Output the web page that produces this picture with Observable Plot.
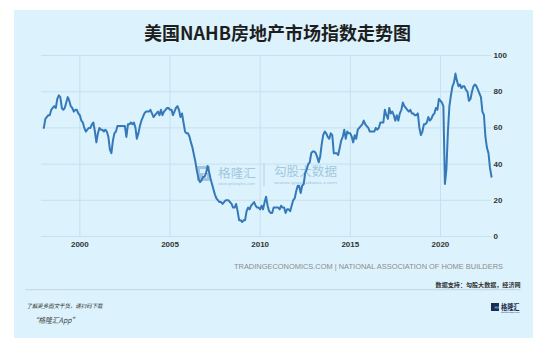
<!DOCTYPE html>
<html><head><meta charset="utf-8">
<script src="https://cdn.jsdelivr.net/npm/d3@7"></script>
<script src="https://cdn.jsdelivr.net/npm/@observablehq/plot@0.6"></script>
<style>
html,body{margin:0;padding:0;background:#fff;}
#wrap{position:relative;width:556px;height:340px;overflow:hidden;background:#fff;}
#card{position:absolute;left:14px;top:10px;width:519px;height:328px;background:#dcf3fd;}
#wm,#chart,#overlay{position:absolute;left:0;top:0;}
</style></head>
<body>
<div id="wrap"><div id="card"></div><svg id="wm" width="556" height="340"></svg><div id="chart"></div><svg id="overlay" width="556" height="340"></svg></div>
<script>
// ---- data ----
const title = "美国NAHB房地产市场指数走势图";
const source = "TRADINGECONOMICS.COM | NATIONAL ASSOCIATION OF HOME BUILDERS";
const dataCredit = "数据支持：勾股大数据，经济网";
const footNote = "了解更多图文干货，请扫码下载";
const appName = "“格隆汇App”";
const startYear = 1998; // first month: Jan 1998, monthly values
const hmi = [
  60,65,66,67,67,70,71,72,71,76,78,77,   // 1998
  71,70,71,74,77,75,72,71,69,70,70,68,   // 1999
  67,64,63,60,58,59,60,60,62,63,58,52,   // 2000
  57,60,59,59,58,59,58,55,48,46,53,57,   // 2001
  58,61,61,61,61,61,61,55,62,62,63,62,   // 2002
  63,60,54,57,61,64,66,68,69,69,69,70,   // 2003
  68,66,67,68,69,67,70,67,69,70,71,71,   // 2004
  70,70,67,69,71,72,70,66,68,63,58,57,   // 2005
  57,55,52,49,45,41,36,32,30,31,33,33,   // 2006
  35,39,36,32,29,26,23,21,20,19,19,18,   // 2007
  19,20,20,20,19,18,16,16,18,14,9,9,     // 2008
  8,9,9,14,16,15,17,18,19,17,16,16,      // 2009
  15,17,15,19,22,17,14,13,13,16,16,16,   // 2010
  16,15,17,16,16,13,15,15,14,17,20,21,   // 2011
  25,28,28,24,28,29,35,37,40,41,46,47,   // 2012
  47,46,44,41,44,51,56,58,57,55,54,57,   // 2013
  56,46,46,46,45,49,53,55,59,54,58,57,   // 2014
  57,55,52,56,54,59,60,61,62,64,62,61,   // 2015
  60,58,58,58,58,60,59,60,63,63,63,70,   // 2016
  67,65,71,68,69,67,64,67,64,68,70,74,   // 2017
  72,71,70,69,70,68,68,67,67,68,60,56,   // 2018
  58,62,62,63,66,64,65,67,68,71,70,76,   // 2019
  75,74,72,29,37,58,72,78,83,85,90,86,   // 2020
  83,84,82,83,83,81,80,75,76,80,83,84,   // 2021
  83,81,79,77,69,67,55,49,46,38,33       // 2022
];
const xTickYears = [2000, 2005, 2010, 2015, 2020];
const yTicks = [0, 20, 40, 60, 80, 100];

// ---- chart ----
const rows = hmi.map((v, i) => ({date: new Date(Date.UTC(startYear, i, 1)), value: v}));
const xTicks = xTickYears.map(y => new Date(Date.UTC(y, 0, 1)));
const gridColor = "#c6e0ed";

const chart = Plot.plot({
  width: 556, height: 260,
  marginLeft: 41, marginRight: 65, marginTop: 55, marginBottom: 24,
  style: {background: "transparent", fontFamily: "'Liberation Sans', Arial, sans-serif", fontSize: "8px", color: "#333", overflow: "visible"},
  x: {type: "utc", domain: [new Date(Date.UTC(1997, 10, 15)), new Date(Date.UTC(2022, 10, 1))]},
  y: {domain: [0, 100]},
  marks: [
    Plot.gridY(yTicks, {stroke: gridColor, strokeOpacity: 1}),
    Plot.gridX(xTicks, {stroke: gridColor, strokeOpacity: 1}),
    Plot.line(rows, {x: "date", y: "value", stroke: "#3579b9", strokeWidth: 2}),
    Plot.axisY(yTicks, {anchor: "right", tickSize: 0, tickPadding: 2, label: null, fontWeight: 600}),
    Plot.axisX(xTicks, {tickSize: 0, tickPadding: 5, tickFormat: "%Y", label: null, fontWeight: 600})
  ]
});
document.getElementById("chart").appendChild(chart);

// ---- watermarks (behind the line) ----
const wm = d3.select("#wm");
const wmColor = "#a3c7e0";
wm.append("rect").attr("x", 197).attr("y", 166).attr("width", 13).attr("height", 15).attr("fill", wmColor);
wm.append("rect").attr("x", 200).attr("y", 169).attr("width", 10).attr("height", 4).attr("fill", "#dcf3fd");
wm.append("rect").attr("x", 203).attr("y", 174).attr("width", 4).attr("height", 4).attr("fill", "#dcf3fd");
wm.append("text").attr("x", 218).attr("y", 178).attr("font-family", "'Noto Sans CJK SC'").attr("font-size", 12)
  .attr("fill", wmColor).attr("textLength", 38).attr("lengthAdjust", "spacingAndGlyphs").text("格隆汇");
wm.append("text").attr("x", 218).attr("y", 185).attr("font-family", "'Liberation Sans'").attr("font-size", 3.2)
  .attr("fill", wmColor).attr("textLength", 37).attr("lengthAdjust", "spacingAndGlyphs").text("www.gelonghui.com");
wm.append("line").attr("x1", 264).attr("x2", 264).attr("y1", 163).attr("y2", 186).attr("stroke", "#b3d0e4").attr("stroke-width", 1);
wm.append("text").attr("x", 274).attr("y", 176).attr("font-family", "'Noto Sans CJK SC'").attr("font-size", 12.5)
  .attr("fill", wmColor).attr("textLength", 63).attr("lengthAdjust", "spacingAndGlyphs").text("勾股大数据");
wm.append("text").attr("x", 274).attr("y", 184).attr("font-family", "'Liberation Sans'").attr("font-size", 4.3)
  .attr("fill", wmColor).attr("textLength", 63).attr("lengthAdjust", "spacingAndGlyphs").text("www.gogudata.com");

// ---- text overlay ----
const ov = d3.select("#overlay");
ov.append("text").attr("x", 277.5).attr("y", 40).attr("text-anchor", "middle")
  .attr("font-family", "'Noto Sans CJK SC'").attr("font-weight", 700).attr("font-size", 18).attr("fill", "#1e1e1e").text(title);
ov.append("text").attr("x", 503).attr("y", 269.4).attr("text-anchor", "end")
  .attr("font-family", "'Liberation Sans', Arial, sans-serif").attr("font-size", 7.5).attr("fill", "#8c8c8c")
  .attr("textLength", 269).attr("lengthAdjust", "spacingAndGlyphs").text(source);
ov.append("text").attr("x", 520.6).attr("y", 286.6).attr("text-anchor", "end")
  .attr("font-family", "'Noto Sans CJK SC'").attr("font-weight", 700).attr("font-size", 6).attr("fill", "#333")
  .attr("textLength", 85).attr("lengthAdjust", "spacingAndGlyphs").text(dataCredit);
ov.append("line").attr("x1", 25.5).attr("x2", 520.6).attr("y1", 289.7).attr("y2", 289.7)
  .attr("stroke", "#b7c6cd").attr("stroke-width", 0.7);
ov.append("text").attr("x", 26.5).attr("y", 308).attr("font-family", "'Noto Sans CJK SC'").attr("font-style", "italic")
  .attr("font-size", 5.5).attr("fill", "#333").attr("textLength", 76).attr("lengthAdjust", "spacingAndGlyphs").text(footNote);
ov.append("text").attr("x", 31.4).attr("y", 322.7).attr("font-family", "'Noto Sans CJK SC'").attr("font-style", "italic")
  .attr("font-size", 7.5).attr("fill", "#444").attr("textLength", 47).attr("lengthAdjust", "spacingAndGlyphs").text(appName);
// logo
ov.append("rect").attr("x", 491).attr("y", 303).attr("width", 8).attr("height", 8).attr("fill", "#1f2d4d");
ov.append("rect").attr("x", 494.5).attr("y", 306.5).attr("width", 4.5).attr("height", 2).attr("fill", "#2f8fd8");
ov.append("text").attr("x", 501).attr("y", 310.3).attr("font-family", "'Noto Sans CJK SC'").attr("font-weight", 700)
  .attr("font-size", 7.5).attr("fill", "#1f2d4d").attr("textLength", 18.5).attr("lengthAdjust", "spacingAndGlyphs").text("格隆汇");
ov.append("text").attr("x", 501).attr("y", 313).attr("font-family", "'Liberation Sans'").attr("font-size", 2)
  .attr("fill", "#1f2d4d").attr("textLength", 18.5).attr("lengthAdjust", "spacingAndGlyphs").text("www.gelonghui.com");
</script>
</body></html>
